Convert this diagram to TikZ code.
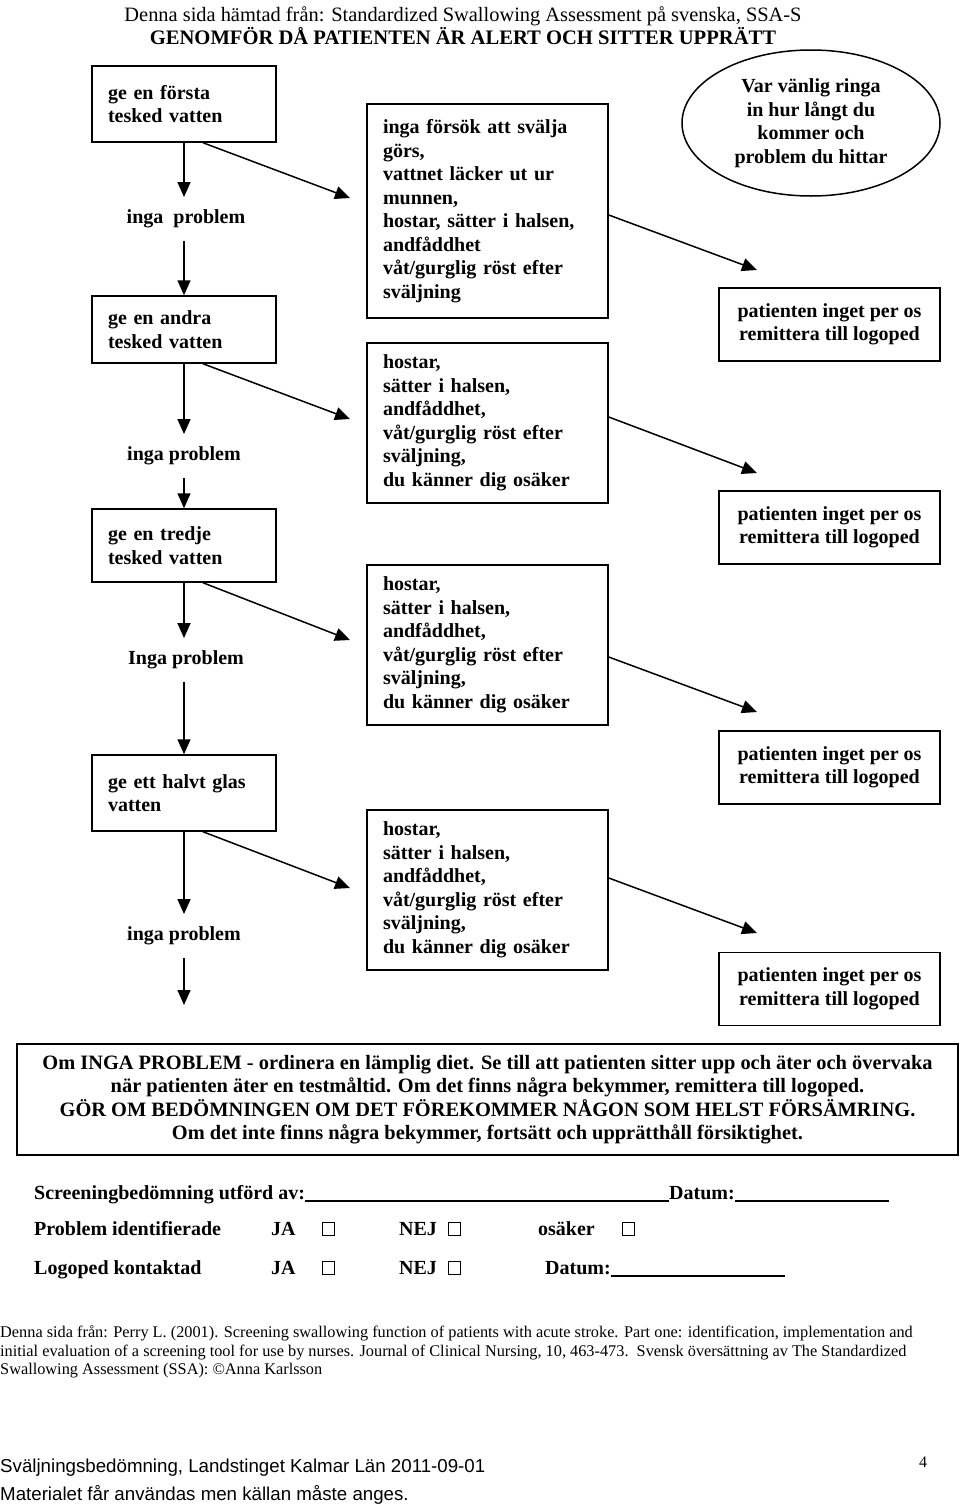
\documentclass[tikz,border=0pt]{standalone}
\usepackage{fontspec}
\setmainfont{Liberation Serif}
\newfontfamily\arialfont{Liberation Sans}
\usetikzlibrary{shapes.geometric,arrows.meta,calc}
\begin{document}
\begin{tikzpicture}[x=1pt,y=-1pt,
  every node/.style={font=\bfseries\fontsize{20}{23.5}\selectfont, inner sep=0pt},
  frame/.style={draw, line width=1.5pt, align=left, inner xsep=16pt},
  lbox/.style={frame, text width=152pt, minimum width=184pt},
  mbox/.style={frame, text width=209pt, minimum width=241pt},
  rbox/.style={draw, line width=1.5pt, align=center, minimum width=221pt, minimum height=73pt},
  plabel/.style={text height=14pt, text depth=4.5pt, inner ysep=12.5pt},
  arr/.style={line width=1.5pt, -{Triangle[length=15pt,width=13pt]}},
  ul/.style={line width=1.3pt},
  cbox/.style={draw, line width=0.7pt, minimum width=12pt, minimum height=13pt},
  formtxt/.style={anchor=base west},
]
\useasboundingbox (0,0) rectangle (960,1507);

% header
\node[font=\fontsize{20.4}{24}\selectfont, anchor=base] (h1) at (463,21) {Denna sida hämtad från: Standardized Swallowing Assessment på svenska, SSA-S};
\node[font=\bfseries\fontsize{20.6}{24}\selectfont, anchor=base] (h2) at (463,44) {GENOMFÖR DÅ PATIENTEN ÄR ALERT OCH SITTER UPPRÄTT};

% left column
\node[lbox, minimum height=76pt] (b1) at (184,104) {ge en första\\tesked vatten};
\node[plabel] (p1) at (186,219) {inga\ \ problem};
\node[lbox, minimum height=67pt] (b2) at (184,329.5) {ge en andra\\tesked vatten};
\node[plabel] (p2) at (184,456) {inga problem};
\node[lbox, minimum height=73pt] (b3) at (184,545.5) {ge en tredje\\tesked vatten};
\node[plabel] (p3) at (186,660) {Inga problem};
\node[lbox, minimum height=76pt] (b4) at (184,793) {ge ett halvt glas\\vatten};
\node[plabel] (p4) at (184,936) {inga problem};
\coordinate (endp) at (184,1005);

\draw[arr] (b1.south) -- (p1.north -| b1.south);
\draw[arr] (p1.south -| b1.south) -- (b2.north);
\draw[arr] (b2.south) -- (p2.north -| b2.south);
\draw[arr] (p2.south -| b2.south) -- (b3.north);
\draw[arr] (b3.south) -- (p3.north -| b3.south);
\draw[arr] (p3.south -| b3.south) -- (b4.north);
\draw[arr] (b4.south) -- (p4.north -| b4.south);
\draw[arr] (p4.south -| b4.south) -- (endp);

% middle column
\node[mbox, minimum height=214pt] (m1) at (487.5,211) {inga försök att svälja\\görs,\\vattnet läcker ut ur\\munnen,\\hostar, sätter i halsen,\\andfåddhet\\våt/gurglig röst efter\\sväljning};
\node[mbox, minimum height=160pt] (m2) at (487.5,423) {hostar,\\sätter i halsen,\\andfåddhet,\\våt/gurglig röst efter\\sväljning,\\du känner dig osäker};
\node[mbox, minimum height=160pt] (m3) at (487.5,645) {hostar,\\sätter i halsen,\\andfåddhet,\\våt/gurglig röst efter\\sväljning,\\du känner dig osäker};
\node[mbox, minimum height=160pt] (m4) at (487.5,890) {hostar,\\sätter i halsen,\\andfåddhet,\\våt/gurglig röst efter\\sväljning,\\du känner dig osäker};

\coordinate (t1) at (350,198);
\coordinate (t2) at (350,419);
\coordinate (t3) at (350,640);
\coordinate (t4) at (350,888);
\draw[arr] ([xshift=19pt]b1.south) -- (t1);
\draw[arr] ([xshift=19pt]b2.south) -- (t2);
\draw[arr] ([xshift=19pt]b3.south) -- (t3);
\draw[arr] ([xshift=19pt]b4.south) -- (t4);

% right column
\node[draw, line width=1.5pt, ellipse, minimum width=258pt, minimum height=146pt, align=center] (ell) at (811,123) {Var vänlig ringa\\in hur långt du\\kommer och\\problem du hittar};
\node[rbox] (r1) at (829.5,324.5) {patienten inget per os\\remittera till logoped};
\node[rbox] (r2) at (829.5,527.5) {patienten inget per os\\remittera till logoped};
\node[rbox] (r3) at (829.5,767.5) {patienten inget per os\\remittera till logoped};
\node[rbox] (r4) at (829.5,989) {patienten inget per os\\remittera till logoped};

\coordinate (s1) at (757,270);
\coordinate (s2) at (757,473);
\coordinate (s3) at (757,712);
\coordinate (s4) at (757,933);
\draw[arr] ([yshift=-4pt]m1.east) -- (s1);
\draw[arr] ([yshift=6pt]m2.east) -- (s2);
\draw[arr] ([yshift=-12pt]m3.east) -- (s3);
\draw[arr] ([yshift=12pt]m4.east) -- (s4);

% bottom box
\node[draw, line width=1.5pt, minimum width=941pt, minimum height=111pt, align=center, font=\bfseries\fontsize{20.4}{23.5}\selectfont] (info) at (487.5,1099.5) {Om INGA PROBLEM - ordinera en lämplig diet. Se till att patienten sitter upp och äter och övervaka\\när patienten äter en testmåltid. Om det finns några bekymmer, remittera till logoped.\\GÖR OM BEDÖMNINGEN OM DET FÖREKOMMER NÅGON SOM HELST FÖRSÄMRING.\\Om det inte finns några bekymmer, fortsätt och upprätthåll försiktighet.};

% form
\node[formtxt] (f1) at (34,1199) {Screeningbedömning utförd av:};
\node[formtxt] (f1d) at (669,1199) {Datum:};
\coordinate (f1e) at (889,1201);
\draw[ul] ([yshift=-2pt]f1.base east) -- ([yshift=-2pt]f1d.base west);
\draw[ul] ([yshift=-2pt]f1d.base east) -- (f1e);

\node[formtxt] (f2) at (34,1235) {Problem identifierade};
\node[formtxt] (f2ja) at (271,1235) {JA};
\node[cbox] (c21) at (328,1229) {};
\node[formtxt] (f2nej) at (399,1235) {NEJ};
\node[cbox] (c22) at (454,1229) {};
\node[formtxt] (f2os) at (538,1235) {osäker};
\node[cbox] (c23) at (628,1229) {};

\node[formtxt] (f3) at (34,1274) {Logoped kontaktad};
\node[formtxt] (f3ja) at (271,1274) {JA};
\node[cbox] (c31) at (328,1268) {};
\node[formtxt] (f3nej) at (399,1274) {NEJ};
\node[cbox] (c32) at (454,1268) {};
\node[formtxt] (f3d) at (545,1274) {Datum:};
\coordinate (f3e) at (785,1276);
\draw[ul] ([yshift=-2pt]f3d.base east) -- (f3e);

% citation
\node[formtxt, font=\fontsize{16.3}{18.5}\selectfont] (c1) at (0,1337) {Denna sida från: Perry L. (2001). Screening swallowing function of patients with acute stroke. Part one: identification, implementation and};
\node[formtxt, font=\fontsize{16.3}{18.5}\selectfont] (c2) at (0,1356) {initial evaluation of a screening tool for use by nurses. Journal of Clinical Nursing, 10, 463-473.\ \ Svensk översättning av The Standardized};
\node[formtxt, font=\fontsize{16.3}{18.5}\selectfont] (c3) at (0,1374) {Swallowing Assessment (SSA): ©Anna Karlsson};

% footer
\node[formtxt, font=\arialfont\fontsize{18.7}{22}\selectfont] (ft1) at (0,1472) {Sväljningsbedömning, Landstinget Kalmar Län 2011-09-01};
\node[formtxt, font=\arialfont\fontsize{18.7}{22}\selectfont] (ft2) at (0,1500) {Materialet får användas men källan måste anges.};
\node[formtxt, font=\fontsize{16}{18}\selectfont] (pg) at (919,1467) {4};
\end{tikzpicture}
\end{document}
